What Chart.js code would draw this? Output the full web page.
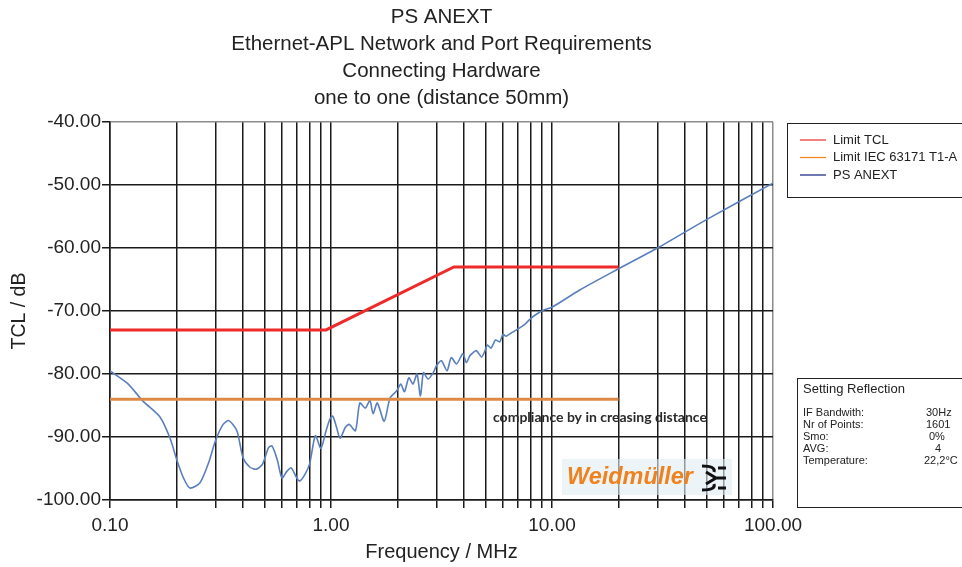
<!DOCTYPE html>
<html>
<head>
<meta charset="utf-8">
<script src="https://cdn.jsdelivr.net/npm/chart.js@4.4.1/dist/chart.umd.min.js"></script>
<style>
  body { margin: 0; background: #fff; }
  canvas { display: block; }
</style>
</head>
<body>
<canvas id="mainChart" width="962" height="567"></canvas>
<script>
// Chart text
const titleLines = [
    'PS ANEXT',
    'Ethernet-APL Network and Port Requirements',
    'Connecting Hardware',
    'one to one (distance 50mm)'
];

// Axis ticks
const freqTicks = [0.1, 0.2, 0.3, 0.4, 0.5, 0.6, 0.7, 0.8, 0.9,
                   1, 2, 3, 4, 5, 6, 7, 8, 9,
                   10, 20, 30, 40, 50, 60, 70, 80, 90, 100];
const freqLabelTicks = [0.1, 1, 10, 100];
const dbMin = -100;
const dbMax = -40;

// Limit TCL (red)
const limitTclFreq = [0.1, 0.95, 3.6, 20];
const limitTclDb = [-73, -73, -63, -63];

// Limit IEC 63171 T1-A (orange)
const limitIecFreq = [0.1, 20];
const limitIecDb = [-84, -84];

const anextFreq = [0.1, 0.12, 0.141, 0.168, 0.187, 0.2, 0.215, 0.23, 0.255, 0.28,
                   0.3, 0.325, 0.345, 0.375, 0.4, 0.43, 0.46, 0.49, 0.52, 0.54,
                   0.57, 0.6, 0.63, 0.66, 0.7, 0.72, 0.76, 0.8, 0.85, 0.9,
                   0.95, 0.99, 1.02, 1.06, 1.1, 1.16, 1.21, 1.29, 1.35, 1.43,
                   1.5, 1.55, 1.62, 1.74, 1.85, 1.98, 2.07, 2.15, 2.25, 2.35,
                   2.45, 2.54, 2.62, 2.75, 2.9, 3.0, 3.16, 3.35, 3.5, 3.7,
                   3.95, 4.1, 4.25, 4.4, 4.55, 4.8, 4.95, 5.1, 5.3, 5.55,
                   5.8, 6.0, 6.2, 6.6, 7.2, 7.6, 8.0, 8.6, 9.1, 10,
                   13.3, 20, 30, 50, 100];
const anextDb = [-79.5, -81.5, -84.3, -86.8, -90.2, -93.5, -96.5, -98.1, -97.3, -94,
                 -90.6, -88, -87.4, -89, -93.3, -94.8, -95.1, -94.3, -91.8, -91.4,
                 -93.5, -96.5, -95.5, -94.9, -96.5, -97, -96, -94.3, -89.8, -91.8,
                 -89, -87.1, -86.7, -88.5, -90.2, -88.5, -88, -89, -84.6, -85.4,
                 -84.2, -86.3, -84.6, -87.5, -83.8, -82.7, -81.6, -82.8, -80.6, -81.6,
                 -80, -83.5, -79.8, -80.8, -79.8, -78.7, -77.9, -79.5, -77.4, -78.4,
                 -76.8, -78.2, -77.1, -76.6, -76.3, -77.3, -76.5, -75.4, -75.9, -74.6,
                 -74.9, -73.7, -74.0, -73.4, -72.6, -72.0, -71.2, -70.4, -69.9, -69.4,
                 -66.7, -63.3, -60, -55.5, -49.7];

// Measurement settings box
const settingsTitle = 'Setting Reflection';
const settingsNames = ['IF Bandwith:', 'Nr of Points:', 'Smo:', 'AVG:', 'Temperature:'];
const settingsValues = ['30Hz', '1601', '0%', '4', '22,2\u00B0C'];
const settingsValueX = [926, 926, 929, 935, 924];

const noteText = 'compliance by in creasing distance';
const logoText = 'Weidm\u00FCller';

const FONT = '"Liberation Sans", Arial, Helvetica, sans-serif';

const toPoints = (xs, ys) => xs.map((x, i) => ({ x: x, y: ys[i] }));

// Legend, note, logo and settings box drawn on top of the chart
const overlayPlugin = {
    id: 'overlay',
    afterDraw(chart) {
        const ctx = chart.ctx;
        ctx.save();

        // legend box
        ctx.fillStyle = '#fff';
        ctx.fillRect(787, 123, 185, 74);
        ctx.strokeStyle = '#222';
        ctx.lineWidth = 1;
        ctx.strokeRect(787.5, 123.5, 185, 74);
        ctx.font = '13px ' + FONT;
        ctx.textBaseline = 'middle';
        chart.data.datasets.forEach((ds, i) => {
            const y = 140 + i * 17.5;
            ctx.strokeStyle = ds.legendColor;
            ctx.lineWidth = 1.3;
            ctx.beginPath();
            ctx.moveTo(800, y);
            ctx.lineTo(826, y);
            ctx.stroke();
            ctx.fillStyle = '#222';
            ctx.fillText(ds.label, 833, y);
        });

        // compliance note
        ctx.fillStyle = '#2a2a2a';
        ctx.font = 'bold 14px Lato, "Open Sans", sans-serif';
        ctx.fillText(noteText, 493, 417, 224);

        // logo
        ctx.fillStyle = 'rgba(225,236,244,0.6)';
        ctx.fillRect(562, 459, 170, 36);
        ctx.fillStyle = '#f0821e';
        ctx.font = 'italic bold 24px ' + FONT;
        ctx.fillText(logoText, 567, 477, 126);
        ctx.strokeStyle = '#111';
        ctx.lineWidth = 3;
        ctx.beginPath();
        ctx.moveTo(702, 466); ctx.quadraticCurveTo(716, 466, 714, 472);
        ctx.moveTo(706, 472); ctx.lineTo(716, 478); ctx.lineTo(706, 484);
        ctx.moveTo(713, 478); ctx.lineTo(726, 478);
        ctx.moveTo(702, 490); ctx.quadraticCurveTo(716, 490, 714, 484);
        ctx.moveTo(718, 468); ctx.lineTo(726, 468);
        ctx.moveTo(718, 488); ctx.lineTo(726, 488);
        ctx.stroke();

        // settings box
        ctx.fillStyle = '#fff';
        ctx.fillRect(797, 378, 175, 129);
        ctx.strokeStyle = '#222';
        ctx.lineWidth = 1;
        ctx.strokeRect(797.5, 378.5, 175, 129);
        ctx.fillStyle = '#222';
        ctx.font = '13px ' + FONT;
        ctx.fillText(settingsTitle, 803, 389);
        ctx.font = '11px ' + FONT;
        settingsNames.forEach((name, i) => {
            const y = 413 + i * 12;
            ctx.fillText(name, 803, y);
            ctx.fillText(settingsValues[i], settingsValueX[i], y);
        });

        ctx.restore();
    }
};

new Chart(document.getElementById('mainChart'), {
    type: 'line',
    data: {
        datasets: [
            {
                label: 'Limit TCL',
                data: toPoints(limitTclFreq, limitTclDb),
                borderColor: '#ee2b2b',
                legendColor: '#f03a3a',
                borderWidth: 3,
                pointRadius: 0,
                tension: 0
            },
            {
                label: 'Limit IEC 63171 T1-A',
                data: toPoints(limitIecFreq, limitIecDb),
                borderColor: '#dc8a46',
                legendColor: '#f08a1e',
                borderWidth: 3,
                pointRadius: 0,
                tension: 0
            },
            {
                label: 'PS ANEXT',
                data: toPoints(anextFreq, anextDb),
                borderColor: '#5a7fbd',
                legendColor: '#1f2f8a',
                borderWidth: 1.6,
                pointRadius: 0,
                tension: 0.25
            }
        ]
    },
    options: {
        responsive: false,
        animation: false,
        layout: { padding: { left: 3, right: 189, top: 0, bottom: 3 } },
        plugins: {
            legend: { display: false },
            tooltip: { enabled: false },
            title: {
                display: true,
                fullSize: false,
                text: titleLines,
                color: '#222',
                font: { family: FONT, size: 20.5, weight: 'normal', lineHeight: 1.317 },
                padding: { top: 4, bottom: 10 }
            }
        },
        scales: {
            x: {
                type: 'logarithmic',
                min: 0.1,
                max: 100,
                afterBuildTicks: scale => {
                    scale.ticks = freqTicks.map(v => ({ value: v }));
                },
                afterFit: scale => { scale.height = 64; },
                ticks: {
                    autoSkip: false,
                    maxRotation: 0,
                    padding: 6,
                    color: '#222',
                    font: { family: FONT, size: 19 },
                    callback: v => freqLabelTicks.includes(v) ? v.toFixed(2) : ''
                },
                grid: {
                    color: c => (c.tick && c.tick.value === 100) ? '#8c8c8c' : '#1a1a1a',
                    lineWidth: 1.5,
                    tickLength: 8,
                    tickColor: '#1a1a1a'
                },
                border: { color: '#1a1a1a', width: 1.5 },
                title: {
                    display: true,
                    text: 'Frequency / MHz',
                    color: '#222',
                    font: { family: FONT, size: 20 },
                    padding: { top: 4, bottom: 0 }
                }
            },
            y: {
                type: 'linear',
                min: dbMin,
                max: dbMax,
                afterFit: scale => { scale.width = 107; },
                ticks: {
                    stepSize: 10,
                    padding: 1,
                    color: '#222',
                    font: { family: FONT, size: 19 },
                    callback: v => v.toFixed(2)
                },
                grid: {
                    color: c => (c.tick && c.tick.value === dbMax) ? '#8c8c8c' : '#1a1a1a',
                    lineWidth: 1.5,
                    tickLength: 8,
                    tickColor: '#1a1a1a'
                },
                border: { color: '#1a1a1a', width: 1.5 },
                title: {
                    display: true,
                    text: 'TCL / dB',
                    color: '#222',
                    font: { family: FONT, size: 19.5 },
                    padding: { top: 5, bottom: 6 }
                }
            }
        }
    },
    plugins: [overlayPlugin]
});
</script>
</body>
</html>
